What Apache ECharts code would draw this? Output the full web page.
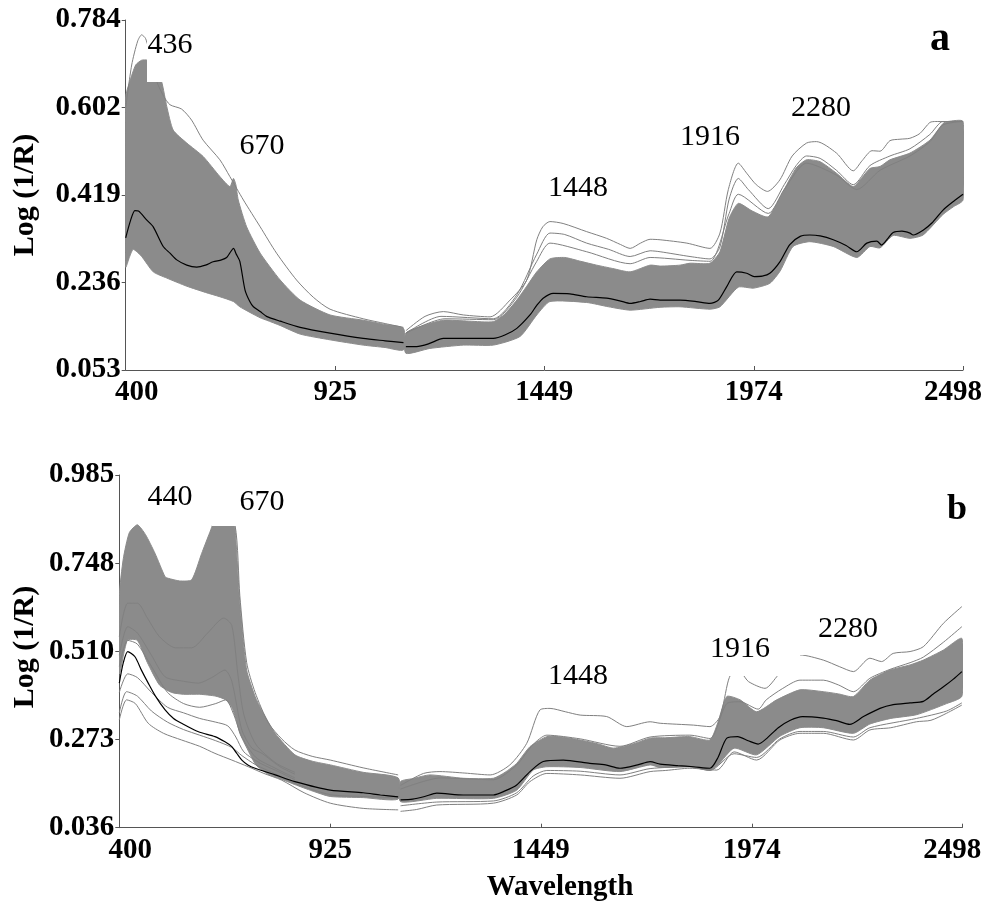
<!DOCTYPE html>
<html>
<head>
<meta charset="utf-8">
<script src="https://cdn.jsdelivr.net/npm/echarts@6/dist/echarts.min.js"></script>
<style>
  html, body { margin: 0; padding: 0; background: #fff; }
  #chart { width: 992px; height: 913px; }
</style>
</head>
<body>
<div id="chart"></div>
<script>
// ---- Axis ticks ----
const xTicks = [400, 925, 1449, 1974, 2498];
const yTicksA = [0.053, 0.236, 0.419, 0.602, 0.784];
const yTicksB = [0.036, 0.273, 0.510, 0.748, 0.985];

// ---- Panel a: spectra [wavelength nm, log(1/R)], split at the detector change ----
const aMean1 = [[400,0.329],[412,0.365],[423,0.386],[432,0.385],[453,0.366],[469,0.352],[494,0.311],[511,0.297],[528,0.283],[553,0.272],[578,0.268],[600,0.272],[619,0.279],[640,0.283],[653,0.288],[663,0.300],[670,0.307],[677,0.295],[686,0.280],[699,0.220],[711,0.196],[720,0.185],[737,0.175],[753,0.165],[787,0.155],[837,0.142],[912,0.130],[995,0.119],[1050,0.114],[1096,0.110]];
const aMean2 = [[1102,0.102],[1129,0.102],[1160,0.108],[1196,0.119],[1246,0.119],[1321,0.119],[1350,0.126],[1380,0.140],[1413,0.168],[1430,0.188],[1446,0.203],[1471,0.213],[1513,0.212],[1555,0.206],[1605,0.203],[1640,0.197],[1664,0.192],[1690,0.196],[1714,0.201],[1739,0.199],[1789,0.199],[1830,0.196],[1864,0.192],[1885,0.199],[1906,0.227],[1931,0.258],[1956,0.255],[1975,0.248],[1995,0.249],[2014,0.255],[2040,0.280],[2064,0.315],[2090,0.332],[2114,0.335],[2140,0.333],[2173,0.325],[2205,0.313],[2232,0.300],[2257,0.318],[2282,0.322],[2294,0.314],[2310,0.328],[2323,0.340],[2345,0.343],[2365,0.339],[2373,0.335],[2398,0.345],[2420,0.360],[2448,0.387],[2474,0.405],[2498,0.420]];
const aUpper1 = [[400,0.624],[410,0.655],[425,0.690],[440,0.700],[455,0.700],[470,0.690],[490,0.655],[503,0.603],[519,0.554],[553,0.527],[594,0.499],[636,0.457],[661,0.436],[670,0.453],[676,0.440],[682,0.408],[703,0.352],[737,0.297],[787,0.241],[837,0.199],[912,0.168],[995,0.157],[1050,0.148],[1096,0.140]];
const aUpper2 = [[1102,0.130],[1150,0.147],[1196,0.157],[1260,0.155],[1321,0.154],[1350,0.170],[1380,0.199],[1405,0.228],[1430,0.258],[1463,0.285],[1500,0.288],[1540,0.280],[1580,0.272],[1620,0.265],[1664,0.258],[1714,0.272],[1739,0.270],[1789,0.272],[1814,0.276],[1864,0.276],[1889,0.300],[1912,0.370],[1935,0.401],[1970,0.385],[2010,0.373],[2050,0.430],[2080,0.475],[2106,0.492],[2140,0.488],[2181,0.464],[2223,0.436],[2245,0.455],[2265,0.474],[2290,0.478],[2315,0.492],[2365,0.506],[2415,0.533],[2448,0.568],[2460,0.572],[2498,0.572]];
const aLower1 = [[400,0.268],[410,0.290],[419,0.305],[440,0.290],[469,0.258],[503,0.245],[553,0.228],[600,0.215],[636,0.206],[670,0.196],[686,0.185],[737,0.162],[753,0.157],[787,0.146],[837,0.128],[912,0.116],[995,0.105],[1050,0.100],[1096,0.095]];
const aLower2 = [[1102,0.088],[1162,0.098],[1246,0.105],[1321,0.105],[1388,0.123],[1430,0.168],[1463,0.196],[1555,0.194],[1610,0.185],[1664,0.178],[1739,0.184],[1789,0.185],[1864,0.180],[1889,0.185],[1935,0.226],[1973,0.224],[2014,0.234],[2040,0.260],[2072,0.311],[2114,0.321],[2173,0.311],[2232,0.288],[2265,0.311],[2290,0.308],[2323,0.334],[2365,0.328],[2398,0.335],[2448,0.378],[2474,0.394],[2498,0.408]];
const aTop1 = [[400,0.600],[415,0.690],[430,0.740],[440,0.753],[450,0.745],[465,0.700],[478,0.655],[495,0.625],[511,0.607],[540,0.598],[565,0.575],[594,0.533],[636,0.492],[661,0.457],[695,0.408],[737,0.352],[778,0.297],[828,0.241],[870,0.205],[912,0.180],[995,0.160],[1050,0.150],[1096,0.142]];
const aTop2 = [[1102,0.135],[1150,0.165],[1196,0.175],[1246,0.168],[1313,0.164],[1363,0.199],[1405,0.241],[1430,0.325],[1445,0.352],[1463,0.363],[1496,0.359],[1555,0.342],[1605,0.328],[1640,0.315],[1664,0.307],[1690,0.318],[1714,0.326],[1739,0.325],[1806,0.318],[1864,0.307],[1889,0.339],[1910,0.430],[1935,0.485],[1956,0.464],[1980,0.440],[2008,0.426],[2039,0.450],[2070,0.500],[2106,0.527],[2131,0.530],[2181,0.506],[2223,0.469],[2245,0.490],[2270,0.511],[2290,0.510],[2315,0.532],[2340,0.535],[2365,0.537],[2390,0.547],[2415,0.570],[2430,0.572],[2498,0.572]];
const aSecond2 = [[1102,0.130],[1190,0.165],[1321,0.160],[1380,0.210],[1430,0.295],[1463,0.339],[1500,0.336],[1555,0.318],[1610,0.305],[1664,0.290],[1714,0.302],[1739,0.300],[1814,0.290],[1864,0.285],[1889,0.310],[1912,0.410],[1935,0.453],[1960,0.430],[2010,0.390],[2050,0.440],[2080,0.480],[2106,0.500],[2140,0.495],[2181,0.470],[2223,0.440],[2265,0.480],[2315,0.500],[2365,0.515],[2415,0.545],[2448,0.572],[2498,0.572]];
const aThird2 = [[1102,0.130],[1200,0.160],[1321,0.158],[1380,0.205],[1430,0.280],[1463,0.318],[1555,0.300],[1664,0.275],[1714,0.288],[1814,0.282],[1864,0.280],[1912,0.380],[1935,0.420],[2010,0.380],[2050,0.430],[2106,0.485],[2181,0.460],[2232,0.430],[2290,0.470],[2365,0.500],[2415,0.530],[2448,0.565],[2498,0.572]];

// ---- Panel b ----
const bMean1 = [[400,0.425],[410,0.480],[421,0.510],[439,0.496],[455,0.460],[472,0.425],[490,0.390],[514,0.353],[535,0.330],[555,0.317],[597,0.294],[638,0.281],[663,0.267],[680,0.254],[693,0.235],[705,0.218],[720,0.205],[738,0.196],[788,0.178],[837,0.160],[925,0.137],[1007,0.130],[1050,0.124],[1094,0.119]];
const bMean2 = [[1100,0.111],[1130,0.113],[1160,0.120],[1190,0.129],[1256,0.124],[1331,0.124],[1360,0.135],[1389,0.151],[1422,0.187],[1455,0.214],[1505,0.218],[1571,0.209],[1610,0.205],[1646,0.196],[1690,0.205],[1721,0.214],[1746,0.207],[1790,0.203],[1829,0.200],[1870,0.196],[1890,0.225],[1912,0.277],[1939,0.281],[1965,0.270],[1990,0.261],[2010,0.275],[2040,0.305],[2070,0.325],[2100,0.335],[2152,0.331],[2185,0.324],[2218,0.314],[2252,0.335],[2293,0.357],[2326,0.367],[2368,0.372],[2401,0.376],[2425,0.395],[2451,0.415],[2475,0.435],[2497,0.456]];
const bUpper1 = [[400,0.660],[410,0.760],[425,0.830],[445,0.851],[465,0.825],[489,0.774],[514,0.711],[522,0.707],[550,0.700],[580,0.703],[605,0.774],[625,0.830],[640,0.870],[660,0.890],[680,0.870],[688,0.840],[700,0.640],[717,0.460],[738,0.389],[754,0.353],[788,0.290],[837,0.232],[880,0.215],[925,0.205],[1007,0.185],[1094,0.170]];
const bUpper2 = [[1100,0.160],[1130,0.168],[1173,0.178],[1256,0.169],[1331,0.169],[1360,0.185],[1389,0.209],[1422,0.254],[1464,0.281],[1500,0.280],[1547,0.272],[1590,0.262],[1630,0.250],[1680,0.262],[1721,0.277],[1760,0.278],[1820,0.281],[1870,0.272],[1890,0.320],[1912,0.389],[1945,0.380],[1986,0.348],[2036,0.380],[2094,0.407],[2152,0.402],[2190,0.396],[2227,0.389],[2268,0.433],[2318,0.460],[2368,0.474],[2401,0.487],[2451,0.514],[2497,0.545]];
const bLower1 = [[400,0.450],[420,0.540],[445,0.540],[470,0.480],[500,0.420],[530,0.400],[560,0.395],[600,0.395],[640,0.390],[665,0.380],[680,0.360],[690,0.330],[700,0.290],[720,0.245],[740,0.205],[770,0.180],[800,0.168],[837,0.152],[880,0.135],[925,0.120],[1007,0.117],[1094,0.113]];
const bLower2 = [[1100,0.106],[1190,0.115],[1331,0.115],[1389,0.137],[1430,0.191],[1464,0.200],[1547,0.198],[1646,0.187],[1721,0.205],[1746,0.198],[1820,0.200],[1870,0.190],[1890,0.205],[1930,0.250],[1986,0.232],[2044,0.282],[2094,0.305],[2152,0.305],[2227,0.290],[2268,0.315],[2320,0.330],[2384,0.340],[2459,0.370],[2497,0.390]];
const bTop1 = [[640,0.870],[660,0.890],[688,0.850],[700,0.660],[717,0.480],[738,0.400],[771,0.318],[804,0.275],[837,0.245],[880,0.228],[925,0.218],[1007,0.197],[1094,0.178]];
const bTop2 = [[1100,0.150],[1157,0.182],[1198,0.187],[1260,0.183],[1323,0.178],[1372,0.205],[1414,0.263],[1447,0.353],[1472,0.357],[1510,0.348],[1547,0.339],[1613,0.335],[1663,0.308],[1721,0.321],[1746,0.317],[1829,0.312],[1870,0.308],[1895,0.335],[1916,0.433],[1930,0.460],[1950,0.450],[1966,0.429],[2007,0.411],[2040,0.447],[2070,0.480],[2094,0.501],[2152,0.487],[2193,0.469],[2227,0.456],[2268,0.492],[2297,0.483],[2326,0.505],[2368,0.510],[2401,0.523],[2451,0.586],[2497,0.631]];
const bSecond2 = [[1100,0.140],[1200,0.170],[1331,0.165],[1389,0.205],[1430,0.260],[1464,0.285],[1547,0.275],[1646,0.255],[1721,0.280],[1820,0.285],[1870,0.276],[1912,0.370],[1945,0.375],[1990,0.355],[2010,0.380],[2050,0.410],[2094,0.433],[2152,0.433],[2190,0.420],[2227,0.402],[2268,0.438],[2318,0.462],[2368,0.480],[2401,0.495],[2451,0.535],[2497,0.577]];
const bLowest1 = [[400,0.326],[418,0.380],[440,0.370],[472,0.317],[510,0.290],[555,0.272],[600,0.255],[638,0.236],[680,0.218],[721,0.200],[760,0.182],[804,0.164],[860,0.130],[925,0.102],[1007,0.088],[1094,0.084]];
const bLowest2 = [[1100,0.080],[1140,0.085],[1190,0.097],[1331,0.102],[1389,0.124],[1422,0.160],[1464,0.182],[1547,0.178],[1646,0.169],[1721,0.187],[1760,0.190],[1820,0.196],[1887,0.191],[1930,0.240],[1986,0.218],[2044,0.272],[2094,0.290],[2152,0.290],[2227,0.272],[2268,0.299],[2320,0.305],[2384,0.321],[2420,0.325],[2459,0.344],[2497,0.366]];
const bLow1 = [[400,0.345],[418,0.402],[445,0.390],[480,0.350],[520,0.320],[560,0.300],[600,0.285],[640,0.270],[680,0.252],[705,0.230],[740,0.205],[790,0.180],[837,0.155],[925,0.125],[1007,0.120],[1094,0.116]];
const bLow2 = [[1100,0.095],[1190,0.105],[1331,0.108],[1389,0.130],[1430,0.175],[1464,0.190],[1547,0.188],[1646,0.178],[1721,0.195],[1820,0.200],[1870,0.190],[1930,0.235],[1986,0.225],[2044,0.275],[2094,0.295],[2152,0.295],[2227,0.280],[2268,0.305],[2384,0.330],[2459,0.350],[2497,0.372]];
const bMidA = [[400,0.500],[421,0.577],[445,0.560],[480,0.500],[514,0.442],[560,0.430],[597,0.425],[630,0.440],[663,0.460],[680,0.430],[705,0.299],[730,0.250],[755,0.236],[800,0.200],[837,0.180]];
const bMidB = [[400,0.470],[421,0.540],[445,0.530],[480,0.470],[520,0.400],[560,0.370],[600,0.360],[640,0.370],[665,0.380],[685,0.340],[705,0.280],[740,0.225],[790,0.195],[837,0.170]];
const bMidC = [[400,0.550],[421,0.640],[445,0.640],[470,0.600],[500,0.550],[540,0.520],[580,0.520],[620,0.560],[660,0.600],[680,0.580],[695,0.450],[710,0.340],[740,0.260],[790,0.210],[837,0.185]];
const bMidD = [[400,0.400],[421,0.450],[445,0.440],[480,0.400],[520,0.360],[560,0.345],[600,0.330],[640,0.320],[670,0.310],[690,0.280],[710,0.240],[750,0.210],[800,0.185],[837,0.165]];

// ---- Annotations ----
const peakLabelsA = ['436', '670', '1448', '1916', '2280'];
const peakLabelsB = ['440', '670', '1448', '1916', '2280'];

const GRAY = '#808080';
const BAND = '#8b8b8b';
const SERIF = '"Liberation Serif", "Times New Roman", serif';

// join two segments with a gap so the line breaks at the detector change
function joinSegs(s1, s2) {
  const out = [];
  if (s1) out.push(...s1);
  if (s1 && s2) out.push([(s1[s1.length - 1][0] + s2[0][0]) / 2, '-']);
  if (s2) out.push(...s2);
  return out;
}

function lineSeries(idx, s1, s2, color, width, z) {
  return {
    type: 'line', xAxisIndex: idx, yAxisIndex: idx,
    data: joinSegs(s1, s2), showSymbol: false, symbol: 'none',
    smooth: 0.25, connectNulls: false, silent: true, z: z,
    lineStyle: { color: color, width: width }, animation: false
  };
}

// filled envelope between upper and lower curves, one polygon per segment
function bandSeries(idx, uppers, lowers) {
  return {
    type: 'custom', xAxisIndex: idx, yAxisIndex: idx, silent: true, z: 2, clip: true,
    animation: false,
    data: uppers.map((u, i) => [u[0][0], u[0][1], i]),
    renderItem: function (params, api) {
      const i = params.dataIndex;
      const up = uppers[i].map(p => api.coord(p));
      const lo = lowers[i].slice().reverse().map(p => api.coord(p));
      return {
        type: 'polygon',
        shape: { points: up.concat(lo), smooth: 0.2 },
        style: { fill: BAND, stroke: BAND, lineWidth: 1 }
      };
    }
  };
}

function xAxisFor(idx) {
  return {
    type: 'value', gridIndex: idx, min: 400, max: 2498,
    axisLine: { show: true, lineStyle: { color: '#555', width: 1 } },
    axisTick: { show: true, inside: true, length: 4, customValues: xTicks, lineStyle: { color: '#555' } },
    splitLine: { show: false },
    axisLabel: {
      customValues: xTicks, margin: 8, color: '#000',
      fontFamily: SERIF, fontWeight: 'bold', fontSize: 29,
      formatter: v => v === xTicks[0] ? '{f|' + v + '}' : (v === xTicks[xTicks.length - 1] ? '{l|' + v + '}' : String(v)),
      rich: {
        f: { padding: [0, 0, 0, 22], fontFamily: SERIF, fontWeight: 'bold', fontSize: 29, color: '#000' },
        l: { padding: [0, 20, 0, 0], fontFamily: SERIF, fontWeight: 'bold', fontSize: 29, color: '#000' }
      }
    }
  };
}

function yAxisFor(idx, ticks) {
  return {
    type: 'value', gridIndex: idx, min: ticks[0], max: ticks[ticks.length - 1],
    axisLine: { show: true, lineStyle: { color: '#555', width: 1 } },
    axisTick: { show: true, inside: false, length: 4, customValues: ticks, lineStyle: { color: '#555' } },
    splitLine: { show: false },
    axisLabel: {
      customValues: ticks, margin: 5, color: '#000',
      fontFamily: SERIF, fontWeight: 'bold', fontSize: 29,
      formatter: v => v.toFixed(3)
    }
  };
}

// text placed at (x, y), optionally rotated about that point
function txt(text, x, y, size, bold, rotation) {
  return {
    type: 'text', z: 100, silent: true, x: x, y: y, rotation: rotation || 0,
    style: {
      text: text, x: 0, y: 0, fill: '#000',
      font: (bold ? 'bold ' : '') + size + 'px ' + SERIF,
      textAlign: 'center', textVerticalAlign: 'middle'
    }
  };
}
// white backing behind a peak label
function mask(x, y, w, h) {
  return { type: 'rect', z: 99, silent: true, shape: { x: x, y: y, width: w, height: h }, style: { fill: '#fff' } };
}

const chart = echarts.init(document.getElementById('chart'), null, { renderer: 'canvas' });

chart.setOption({
  backgroundColor: '#fff',
  animation: false,
  grid: [
    { left: 125.7, right: 29, top: 20, height: 350 },
    { left: 119.3, right: 29.7, top: 475, height: 352.7 }
  ],
  xAxis: [xAxisFor(0), xAxisFor(1)],
  yAxis: [yAxisFor(0, yTicksA), yAxisFor(1, yTicksB)],
  series: [
    // panel a
    bandSeries(0, [aUpper1, aUpper2], [aLower1, aLower2]),
    lineSeries(0, aTop1, aTop2, GRAY, 1, 3),
    lineSeries(0, null, aSecond2, GRAY, 1, 3),
    lineSeries(0, null, aThird2, GRAY, 1, 3),
    lineSeries(0, aMean1, aMean2, '#000', 1.2, 5),
    // panel b
    bandSeries(1, [bUpper1, bUpper2], [bLower1, bLower2]),
    lineSeries(1, bTop1, bTop2, GRAY, 1, 3),
    lineSeries(1, null, bSecond2, GRAY, 1, 3),
    lineSeries(1, bLowest1, bLowest2, GRAY, 1, 3),
    lineSeries(1, bLow1, bLow2, GRAY, 1, 3),
    lineSeries(1, bMidA, null, GRAY, 1, 3),
    lineSeries(1, bMidB, null, GRAY, 1, 3),
    lineSeries(1, bMidC, null, GRAY, 1, 3),
    lineSeries(1, bMidD, null, GRAY, 1, 3),
    lineSeries(1, bMean1, bMean2, '#000', 1.2, 5)
  ],
  graphic: [
    // axis titles
    txt('Log (1/R)', 25, 195, 30, true, Math.PI / 2),
    txt('Log (1/R)', 25, 647, 30, true, Math.PI / 2),
    txt('Wavelength', 560, 888, 29, true),
    // panel letters
    txt('a', 940, 40, 40, true),
    txt('b', 957, 510, 36, true),
    // panel a peak labels
    mask(147, 24, 55, 58),
    txt(peakLabelsA[0], 170, 45, 30, false),
    txt(peakLabelsA[1], 262, 146, 30, false),
    txt(peakLabelsA[2], 578, 188, 30, false),
    txt(peakLabelsA[3], 710, 137, 30, false),
    txt(peakLabelsA[4], 821, 108, 30, false),
    // panel b peak labels
    mask(212, 478, 80, 48),
    mask(705, 625, 95, 51),
    mask(800, 605, 85, 50),
    txt(peakLabelsB[0], 170, 497, 30, false),
    txt(peakLabelsB[1], 262, 502, 30, false),
    txt(peakLabelsB[2], 578, 676, 30, false),
    txt(peakLabelsB[3], 740, 649, 30, false),
    txt(peakLabelsB[4], 848, 629, 30, false)
  ]
});
</script>
</body>
</html>
